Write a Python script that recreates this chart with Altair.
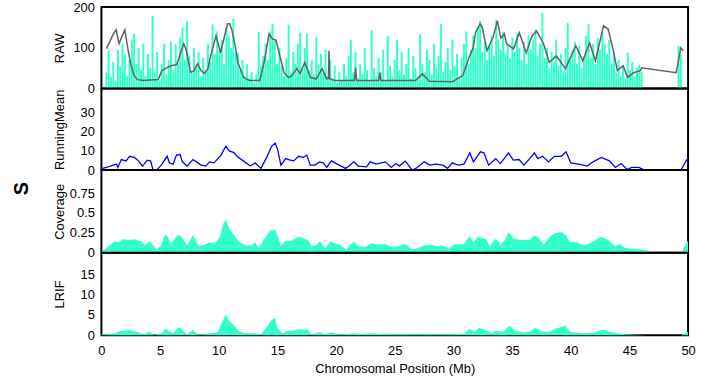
import altair as alt
import numpy as np
import pandas as pd

FONT = "Liberation Sans"
TEAL = "#33ffcc"
PANEL_W = 590

# ---- RAW read counts: one bar every 0.2 Mb (0 - 46.4 Mb, then 49.6 - 49.8 Mb)
raw_bar_pos = [round(v, 1) for v in np.arange(0.0, 46.41, 0.2)] + [49.6, 49.8]
raw_bar_val = [
    40, 92, 28, 65, 20,    95, 55, 110, 85, 30,   70, 120, 135, 60, 100,
    45, 110, 30, 85, 50,   178, 40, 90, 20, 60,   110, 35, 70, 115, 45,
    108, 60, 125, 150, 70, 166, 80, 40, 100, 55,  90, 30, 75, 45, 110,
    65, 157, 85, 140, 95,  120, 60, 150, 130, 100, 171, 90, 88, 45, 70,
    30, 60, 25, 40, 15,    35, 139, 55, 80, 110,  70, 140, 159, 120, 60,
    100, 55, 30, 75, 157,  40, 90, 60, 110, 137,  50, 100, 135, 45, 70,
    35, 127, 60, 85, 40,   95, 30, 70, 25, 55,     15, 40, 20, 60, 30,
    80, 120, 40, 90, 25,   60, 35, 100, 45, 20,   143, 50, 30, 75, 40,
    95, 20, 129, 55, 30,   70, 119, 45, 90, 35,   60, 100, 25, 80, 50,
    30, 133, 60, 40, 95,   70, 35, 110, 50, 80,   159, 40, 65, 100, 45,
    120, 55, 85, 30, 75,   110, 140, 60, 95, 130,  100, 150, 166, 90, 115,
    70, 105, 130, 80, 169, 120, 95, 140, 85, 110,  75, 125, 90, 135, 100,
    70, 115, 60, 130, 95,  120, 145, 80, 110, 185,  75, 100, 50, 90, 65,
    120, 55, 85, 40, 100,  161, 70, 95, 115, 60,  105, 50, 80, 130, 159,
    75, 110, 60, 124, 95,  140, 110, 85, 120, 60,  90, 40, 70, 30, 55,
    25, 88, 45, 65, 30,    50, 59, 40,
    104, 85,
]

# ---- smoothed RAW profile (grey line)
raw_line_pos = [
    0.0, 0.3, 0.6, 0.85, 1.1, 1.35, 1.6, 1.85, 2.1, 2.4,
    2.7, 3.2, 3.8, 4.5, 4.8, 5.1, 5.6, 6.1, 6.5, 6.7,
    6.9, 7.3, 7.6, 7.9, 8.2, 8.5, 8.8, 9.0, 9.5, 9.7,
    9.9, 10.2, 10.5, 10.7, 10.9, 11.2, 11.4, 11.9, 12.4, 13.3,
    13.7, 14.1, 14.4, 14.7, 15.0, 15.4, 15.8, 16.1, 16.5, 16.8,
    17.2, 17.7, 18.2, 18.7, 19.1, 19.25, 19.3, 19.35, 19.8, 21.0,
    21.5, 21.6, 21.7, 22.5, 23.6, 23.7, 23.8, 25.0, 26.8, 27.4,
    28.0, 30.0, 30.9, 31.4, 31.8, 32.0, 32.4, 32.6, 33.0, 33.5,
    33.9, 34.2, 34.5, 34.7, 35.3, 35.8, 36.4, 36.9, 37.3, 37.9,
    38.4, 39.0, 39.8, 40.7, 41.3, 41.9, 42.4, 43.1, 43.5, 43.9,
    44.3, 44.8, 45.2, 45.7, 46.3, 46.4, 49.4, 49.8, 50.0,
]
raw_line_val = [
    98, 115, 134, 144, 110, 128, 144, 100, 61, 32,
    22, 20, 21, 22, 44, 49, 56, 59, 93, 110,
    97, 40, 44, 61, 44, 37, 49, 76, 129, 110,
    88, 124, 159, 159, 141, 100, 64, 27, 20, 20,
    68, 134, 122, 119, 85, 39, 27, 32, 49, 37,
    64, 27, 24, 49, 24, 25, 93, 24, 20, 20,
    20, 51, 20, 20, 20, 39, 20, 20, 20, 36,
    18, 17, 32, 73, 100, 137, 159, 149, 93, 124,
    166, 124, 134, 110, 97, 137, 88, 129, 141, 110,
    64, 80, 49, 105, 68, 112, 68, 154, 146, 100,
    44, 56, 27, 39, 44, 51, 39, 100, 93,
]

# ---- running mean (blue line)
rm_pos = [
    0.0, 0.1, 0.5, 1.0, 1.3, 1.4, 1.7, 2.1, 2.4, 2.8,
    3.1, 3.5, 3.9, 4.2, 4.4, 4.7, 5.1, 5.6, 5.8, 6.1,
    6.4, 6.7, 6.9, 7.3, 7.8, 8.1, 8.5, 8.9, 9.2, 9.6,
    10.2, 10.6, 10.9, 11.3, 11.6, 12.0, 12.7, 13.1, 13.6, 14.1,
    14.5, 14.8, 15.0, 15.3, 15.7, 16.1, 16.4, 16.8, 17.2, 17.5,
    17.8, 18.2, 18.6, 18.9, 19.2, 19.6, 20.1, 20.8, 21.1, 21.5,
    21.9, 22.6, 22.9, 23.4, 24.2, 24.7, 25.1, 25.4, 25.9, 26.5,
    26.8, 27.5, 28.0, 28.5, 29.1, 29.5, 29.9, 30.4, 30.9, 31.4,
    31.7, 31.9, 32.3, 32.6, 33.0, 33.6, 34.0, 34.7, 35.1, 35.6,
    36.0, 36.5, 36.9, 37.2, 37.6, 38.1, 38.6, 39.2, 39.6, 40.0,
    40.7, 41.4, 41.9, 42.6, 43.3, 43.8, 44.3, 44.8, 45.2, 45.8,
    46.2, 46.6, 49.4, 49.9, 50.0,
]
rm_val = [
    0.8, 0.9, 1.5, 2.6, 3.1, 1.4, 5.5, 4.8, 7.2, 6.6,
    5.2, 2.1, 5.2, 4.7, 0.0, 0.0, 2.6, 7.2, 3.8, 3.1,
    7.8, 8.1, 4.3, 2.1, 5.5, 4.3, 2.6, 2.1, 4.3, 3.8,
    7.8, 12.4, 10.0, 9.1, 6.9, 5.2, 2.1, 3.8, 0.9, 6.9,
    12.4, 14.1, 11.2, 2.6, 6.0, 5.2, 4.8, 7.2, 6.6, 7.8,
    2.6, 2.6, 4.3, 3.8, 1.4, 4.8, 3.1, 0.9, 2.1, 4.3,
    2.1, 1.7, 4.3, 3.1, 4.3, 1.4, 3.4, 2.1, 4.7, 0.0,
    0.9, 4.3, 2.6, 3.1, 2.6, 0.9, 3.8, 2.6, 3.1, 9.0,
    4.3, 6.0, 9.5, 9.0, 2.6, 6.0, 3.4, 9.0, 5.2, 5.5,
    2.6, 6.0, 9.0, 6.0, 7.2, 4.3, 7.2, 7.2, 9.5, 3.8,
    3.1, 2.1, 4.3, 6.6, 4.8, 1.4, 3.4, 0.3, 1.4, 1.4,
    0.3, 0.0, 0.0, 5.5, 5.8,
]

# ---- coverage (filled area)
cov_pos = [
    0.0, 0.1, 0.4, 1.1, 1.5, 1.8, 2.4, 2.8, 3.4, 3.7,
    4.0, 4.2, 4.7, 5.1, 5.4, 5.6, 5.9, 6.2, 6.5, 6.7,
    7.1, 7.3, 7.8, 8.1, 8.3, 8.8, 9.2, 9.7, 10.1, 10.4,
    10.6, 10.9, 11.3, 11.7, 12.3, 12.8, 13.1, 13.4, 14.0, 14.4,
    14.8, 15.0, 15.3, 15.7, 16.2, 16.8, 17.2, 17.6, 17.9, 18.3,
    18.6, 19.1, 19.5, 19.9, 20.3, 20.9, 21.1, 21.5, 21.9, 22.5,
    23.0, 23.6, 24.2, 24.7, 25.3, 25.9, 26.4, 26.8, 27.5, 28.1,
    28.5, 29.1, 29.6, 30.1, 30.6, 30.9, 31.4, 31.7, 32.1, 32.5,
    32.8, 33.1, 33.6, 34.0, 34.4, 34.7, 35.1, 35.6, 36.0, 36.5,
    36.9, 37.3, 37.7, 38.2, 38.6, 39.2, 39.6, 39.9, 40.5, 41.2,
    41.9, 42.6, 43.2, 43.8, 44.2, 44.6, 45.2, 45.8, 46.5, 46.6,
    49.4, 49.95, 50.0,
]
cov_val = [
    0.0, 0.02, 0.06, 0.14, 0.13, 0.17, 0.16, 0.17, 0.14, 0.09,
    0.13, 0.13, 0.04, 0.10, 0.23, 0.21, 0.12, 0.16, 0.22, 0.22,
    0.14, 0.09, 0.22, 0.14, 0.08, 0.10, 0.13, 0.12, 0.20, 0.37,
    0.41, 0.30, 0.22, 0.14, 0.09, 0.09, 0.13, 0.06, 0.20, 0.28,
    0.29, 0.22, 0.09, 0.15, 0.15, 0.20, 0.18, 0.16, 0.09, 0.09,
    0.14, 0.06, 0.14, 0.12, 0.10, 0.04, 0.08, 0.14, 0.08, 0.07,
    0.12, 0.10, 0.11, 0.07, 0.08, 0.11, 0.05, 0.05, 0.09, 0.10,
    0.08, 0.09, 0.05, 0.11, 0.10, 0.11, 0.21, 0.13, 0.20, 0.18,
    0.17, 0.08, 0.18, 0.10, 0.16, 0.26, 0.18, 0.16, 0.16, 0.16,
    0.22, 0.18, 0.10, 0.20, 0.24, 0.26, 0.22, 0.14, 0.13, 0.09,
    0.14, 0.20, 0.16, 0.08, 0.11, 0.06, 0.05, 0.04, 0.03, 0.0,
    0.0, 0.14, 0.16,
]

# ---- LRIF (filled area)
lrif_pos = [
    0.0, 0.5, 1.1, 1.7, 2.4, 3.1, 3.7, 4.0, 4.5, 5.1,
    5.5, 5.8, 6.1, 6.5, 6.7, 7.1, 7.3, 7.8, 8.2, 8.8,
    9.3, 9.9, 10.2, 10.6, 10.9, 11.3, 11.7, 12.3, 13.0, 13.6,
    14.1, 14.5, 14.8, 15.0, 15.4, 15.8, 16.4, 16.8, 17.2, 17.6,
    17.9, 18.6, 19.1, 19.6, 20.1, 21.0, 21.5, 22.2, 23.0, 23.7,
    24.2, 25.0, 26.0, 27.0, 28.0, 29.0, 30.0, 30.9, 31.4, 31.8,
    32.2, 32.5, 33.3, 33.6, 34.2, 34.8, 35.3, 35.9, 36.5, 37.0,
    37.4, 38.1, 38.7, 39.5, 40.0, 41.0, 42.0, 42.7, 43.5, 44.6,
    45.5, 46.3, 46.6, 49.4, 49.9, 50.0,
]
lrif_val = [
    0.25, 0.25, 0.5, 1.1, 1.3, 0.7, 0.25, 0.9, 0.1, 0.5,
    1.7, 0.9, 0.5, 1.7, 1.9, 0.7, 0.25, 1.3, 0.25, 0.25,
    0.5, 0.7, 2.7, 5.1, 3.5, 2.4, 1.0, 0.5, 0.5, 0.25,
    2.1, 3.7, 4.3, 1.8, 0.5, 1.0, 1.0, 1.6, 1.3, 1.4,
    0.25, 0.7, 0.25, 0.7, 0.25, 0.3, 0.5, 0.3, 0.5, 0.3,
    0.4, 0.3, 0.3, 0.25, 0.3, 0.25, 0.3, 0.4, 1.6, 0.8,
    1.8, 1.5, 0.5, 1.2, 0.8, 2.3, 1.0, 0.7, 0.9, 1.8,
    1.0, 0.7, 1.6, 2.3, 0.8, 0.5, 0.6, 1.4, 0.7, 0.2,
    0.1, 0.0, 0.0, 0.0, 0.7, 0.8,
]

x_ticks = list(range(0, 51, 5))
x_scale = alt.Scale(domain=[0, 50], nice=False, zero=False)


def frame(df):
    return pd.DataFrame(df)


def y_axis(title, values, height, fmt="d"):
    return alt.Axis(
        title=title, values=values, format=fmt, ticks=False, domain=False, grid=False,
        labelPadding=7, labelFont=FONT, labelFontSize=13, labelColor="black",
        labelFlush=False,
        titleFont=FONT, titleFontSize=13, titleFontWeight="normal", titleColor="black",
        titleAngle=270, titleX=-38, titleY=height / 2, titleAlign="center",
        titleBaseline="alphabetic",
    )


x_hidden = alt.X("pos:Q", scale=x_scale, axis=None)
x_bottom = alt.X(
    "pos:Q", scale=x_scale,
    axis=alt.Axis(
        title="Chromosomal Position (Mb)", values=x_ticks, ticks=False, domain=False,
        grid=False, labelFlush=False, labelPadding=9, labelFont=FONT, labelFontSize=13,
        labelColor="black", titleFont=FONT, titleFontSize=13, titleFontWeight="normal",
        titleColor="black", titlePadding=6,
    ),
)

H1, H2, H3, H4 = 82, 82, 83, 83

raw_bars = alt.Chart(frame({"pos": raw_bar_pos, "val": raw_bar_val})).mark_bar(
    color=TEAL, size=2.0
).encode(
    x=x_hidden,
    y=alt.Y("val:Q", scale=alt.Scale(domain=[0, 200], nice=False),
            axis=y_axis("RAW", [0, 100, 200], H1)),
)
raw_line = alt.Chart(frame({"pos": raw_line_pos, "val": raw_line_val})).mark_line(
    color="#626262", strokeWidth=1.5
).encode(x=x_hidden, y=alt.Y("val:Q"))
raw_panel = alt.layer(raw_bars, raw_line).properties(width=PANEL_W, height=H1)

rm_panel = alt.Chart(frame({"pos": rm_pos, "val": rm_val})).mark_line(
    color="#0000ff", strokeWidth=1.3
).encode(
    x=x_hidden,
    y=alt.Y("val:Q", scale=alt.Scale(domain=[0, 42.4], nice=False),
            axis=y_axis("RunningMean", [0, 10, 20, 30], H2)),
).properties(width=PANEL_W, height=H2)

cov_panel = alt.Chart(frame({"pos": cov_pos, "val": cov_val})).mark_area(
    color=TEAL
).encode(
    x=x_hidden,
    y=alt.Y("val:Q", scale=alt.Scale(domain=[0, 1.04], nice=False),
            axis=y_axis("Coverage", [0, 0.25, 0.5, 0.75], H3, ".2~f")),
).properties(width=PANEL_W, height=H3)

lrif_panel = alt.Chart(frame({"pos": lrif_pos, "val": lrif_val})).mark_area(
    color=TEAL
).encode(
    x=x_bottom,
    y=alt.Y("val:Q", scale=alt.Scale(domain=[0, 20.3], nice=False),
            axis=y_axis("LRIF", [0, 5, 10, 15], H4)),
).properties(width=PANEL_W, height=H4)

chart = alt.vconcat(
    raw_panel, rm_panel, cov_panel, lrif_panel, spacing=0, bounds="flush"
).properties(
    title=alt.TitleParams(
        "S", orient="left", anchor="middle", font=FONT, fontSize=20,
        fontWeight="bold", color="black", offset=21,
    ),
    padding={"left": 12, "top": -1, "right": 4, "bottom": 4},
).configure_view(
    stroke="black", strokeWidth=2
)

chart.save("out.html", embed_options={"renderer": "svg", "actions": False})
